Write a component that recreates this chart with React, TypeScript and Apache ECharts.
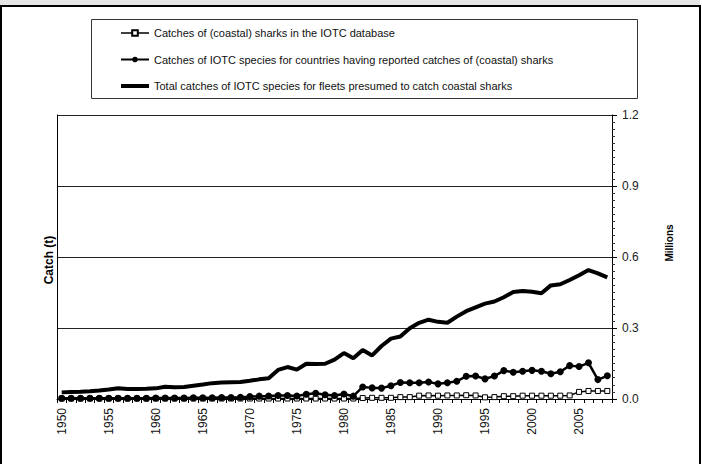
import React, { useEffect, useRef } from "react";
import * as echarts from "echarts";

const years: string[] = [];
for (let y = 1950; y <= 2008; y++) years.push(String(y));

// Catch in tonnes
const sharksIOTC = [
  2000, 2000, 2000, 2000, 2000, 2000, 2000, 2000, 2000, 2000,
  2000, 2000, 2000, 2000, 2000, 2000, 2000, 2000, 2000, 2000,
  2000, 2000, 2000, 2000, 2000, 2000, 2000, 2000, 2000, 2000,
  2000, 2000, 4000, 5000, 5000, 5000, 8000, 8000, 14000, 15000,
  14000, 15000, 15000, 16000, 15000, 7000, 8000, 12000, 12000, 14000,
  14000, 14000, 14000, 14000, 15000, 30000, 34000, 34000, 34000,
];

const reportingCountries = [
  3000, 3000, 3000, 3000, 3000, 3000, 3000, 3000, 3000, 3000,
  4000, 4000, 4000, 4000, 5000, 5000, 5000, 6000, 6000, 7000,
  10000, 12000, 13000, 15000, 15000, 13000, 20000, 24000, 18000, 15000,
  21000, 12000, 51000, 47000, 46000, 56000, 70000, 69000, 69000, 72000,
  64000, 69000, 75000, 96000, 97000, 85000, 97000, 120000, 113000, 117000,
  121000, 117000, 107000, 115000, 141000, 137000, 153000, 82000, 98000,
];

const totalFleets = [
  28000, 30000, 31000, 33000, 36000, 40000, 45000, 42000, 42000, 43000,
  45000, 52000, 50000, 51000, 56000, 61000, 67000, 70000, 71000, 72000,
  77000, 83000, 88000, 123000, 135000, 124000, 149000, 148000, 149000, 166000,
  194000, 172000, 207000, 184000, 224000, 255000, 264000, 299000, 322000, 335000,
  326000, 322000, 348000, 371000, 387000, 403000, 412000, 430000, 452000, 456000,
  453000, 447000, 480000, 485000, 503000, 523000, 545000, 531000, 514000,
];

const seriesNames = [
  "Catches of (coastal) sharks in the IOTC database",
  "Catches of IOTC species for countries having reported catches of (coastal) sharks",
  "Total catches of IOTC species for fleets presumed to catch coastal sharks",
];

const FONT = "'Liberation Sans', Arial, sans-serif";

export default function App() {
  const ref = useRef<HTMLDivElement>(null);
  useEffect(() => {
    if (!ref.current) return;
    const chart = echarts.init(ref.current, undefined, { renderer: "svg" });
    chart.setOption({
      animation: false,
      backgroundColor: "#ffffff",
      textStyle: { fontFamily: FONT },
      grid: { left: 57, right: 90, top: 115, bottom: 65, containLabel: false },
      graphic: [
        { type: "rect", shape: { x: 0, y: 0, width: 700, height: 5 }, style: { fill: "#e6e6e6" }, silent: true },
        { type: "rect", shape: { x: 0, y: 5, width: 701, height: 2 }, style: { fill: "#000" }, silent: true },
        { type: "rect", shape: { x: 0, y: 5, width: 2, height: 459 }, style: { fill: "#000" }, silent: true },
        { type: "rect", shape: { x: 699, y: 5, width: 2, height: 459 }, style: { fill: "#000" }, silent: true },
        {
          type: "rect",
          shape: { x: 91.5, y: 19.5, width: 546, height: 79 },
          style: { fill: "none", stroke: "#333", lineWidth: 1 },
          silent: true,
          z: -1,
        },
        {
          type: "text",
          x: 49,
          y: 260,
          rotation: Math.PI / 2,
          style: {
            text: "Catch (t)",
            align: "center",
            verticalAlign: "middle",
            font: `bold 12px ${FONT}`,
            fill: "#000",
          },
        },
        {
          type: "text",
          x: 669,
          y: 243,
          rotation: Math.PI / 2,
          style: {
            text: "Millions",
            align: "center",
            verticalAlign: "middle",
            font: `bold 10px ${FONT}`,
            fill: "#000",
          },
        },
      ],
      legend: {
        orient: "vertical",
        left: 120,
        top: 27.5,
        itemWidth: 28,
        itemHeight: 7,
        itemGap: 15.5,
        padding: 0,
        textStyle: { fontSize: 11, color: "#111", fontFamily: FONT },
        data: [
          { name: seriesNames[0], lineStyle: { width: 1.5 } },
          { name: seriesNames[1], lineStyle: { width: 2 } },
          { name: seriesNames[2], icon: "path://M0 0H28V4H0Z", itemStyle: { color: "#000" } },
        ],
      },
      xAxis: {
        type: "category",
        data: years,
        boundaryGap: true,
        axisLine: { show: true, lineStyle: { color: "#000", width: 1 } },
        axisTick: { show: true, interval: 0, length: 4, lineStyle: { color: "#000" } },
        axisLabel: {
          interval: 4,
          rotate: 90,
          fontSize: 12,
          color: "#111",
          margin: 9,
          fontFamily: FONT,
        },
        splitLine: { show: false },
      },
      yAxis: [
        {
          type: "value",
          position: "right",
          min: 0,
          max: 1200000,
          interval: 300000,
          axisLine: { show: true, lineStyle: { color: "#000", width: 1 } },
          axisTick: { show: true, inside: false, length: 5, lineStyle: { color: "#000" } },
          minorTick: { show: true, splitNumber: 10, length: 3, lineStyle: { color: "#333" } },
          axisLabel: {
            fontSize: 12,
            color: "#222",
            margin: 10,
            fontFamily: FONT,
            formatter: (v: number) => (v / 1000000).toFixed(1),
          },
          splitLine: { show: true, lineStyle: { color: "#222", width: 1 } },
        },
        {
          type: "value",
          position: "left",
          min: 0,
          max: 1200000,
          interval: 300000,
          axisLine: { show: true, lineStyle: { color: "#000", width: 1 } },
          axisTick: { show: false },
          axisLabel: { show: false },
          splitLine: { show: false },
        },
      ],
      series: [
        {
          name: seriesNames[0],
          type: "line",
          data: sharksIOTC,
          symbol: "rect",
          symbolSize: 5,
          showAllSymbol: true,
          z: 2,
          lineStyle: { color: "#000", width: 1.5 },
          itemStyle: { color: "#fff", borderColor: "#000", borderWidth: 1 },
        },
        {
          name: seriesNames[1],
          type: "line",
          data: reportingCountries,
          symbol: "circle",
          symbolSize: 7,
          showAllSymbol: true,
          z: 3,
          lineStyle: { color: "#000", width: 2.5 },
          itemStyle: { color: "#000", borderColor: "#000", borderWidth: 0 },
        },
        {
          name: seriesNames[2],
          type: "line",
          data: totalFleets,
          symbol: "none",
          z: 2,
          lineStyle: { color: "#000", width: 4 },
          itemStyle: { color: "#000" },
        },
      ],
    });
    return () => chart.dispose();
  }, []);
  return (
    <div
      ref={ref}
      style={{ position: "fixed", left: 0, top: 0, width: 702, height: 464 }}
    />
  );
}
